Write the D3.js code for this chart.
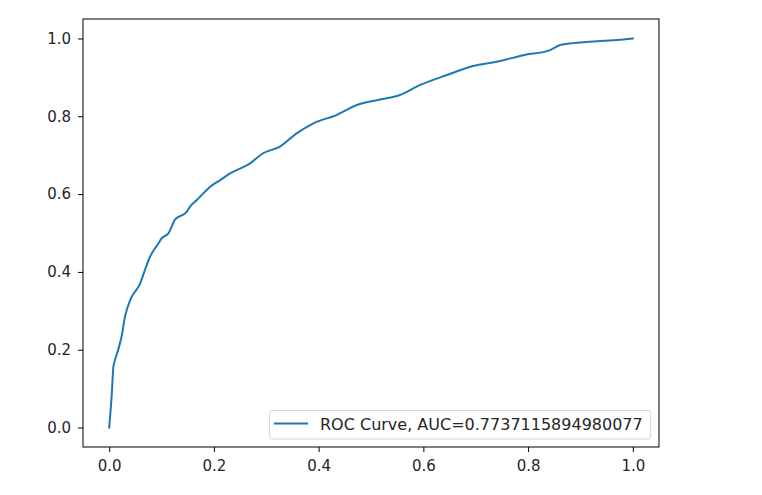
<!DOCTYPE html>
<html>
<head>
<meta charset="utf-8">
<script src="https://cdn.jsdelivr.net/npm/d3@7"></script>
<style>
  body { margin: 0; background: #fff; }
  svg text { font-family: "DejaVu Sans", sans-serif; fill: #262626; }
</style>
</head>
<body>
<div id="vis"></div>
<script>
// ROC curve (false positive rate / true positive rate)
var fpr = [0, 0.005, 0.008, 0.011, 0.017, 0.024, 0.030, 0.040, 0.043, 0.059, 0.068, 0.078,
  0.094, 0.100, 0.113, 0.126, 0.148, 0.154, 0.167, 0.193, 0.212, 0.231, 0.269, 0.294,
  0.326, 0.358, 0.390, 0.434, 0.473, 0.517, 0.554, 0.593, 0.645, 0.695, 0.740, 0.791,
  0.842, 0.861, 0.886, 0.944, 0.970, 1.0];
var tpr = [0, 0.087, 0.156, 0.173, 0.199, 0.236, 0.284, 0.327, 0.336, 0.370, 0.404, 0.439,
  0.473, 0.486, 0.499, 0.535, 0.554, 0.567, 0.584, 0.619, 0.636, 0.653, 0.679, 0.705,
  0.722, 0.756, 0.782, 0.803, 0.829, 0.843, 0.854, 0.880, 0.906, 0.929, 0.940, 0.957,
  0.970, 0.983, 0.988, 0.994, 0.996, 1.0];
var tickValues = [0, 0.2, 0.4, 0.6, 0.8, 1.0];
var legendLabel = 'ROC Curve, AUC=0.7737115894980077';

var width = 762;
var height = 495;
// axes box in pixels
var box = { left: 83, top: 19, right: 659, bottom: 447 };

var points = fpr.map(function(d, i) { return [d, tpr[i]]; });

var svg = d3.select('#vis').append('svg')
  .attr('width', width)
  .attr('height', height);

// matplotlib style 5% margins around the data range
var x = d3.scaleLinear().domain([-0.05, 1.05]).range([box.left, box.right]);
var y = d3.scaleLinear().domain([-0.05, 1.05]).range([box.bottom, box.top]);

var line = d3.line()
  .curve(d3.curveMonotoneX)
  .x(function(d) { return x(d[0]); })
  .y(function(d) { return y(d[1]); });

svg.append('path')
  .datum(points)
  .attr('fill', 'none')
  .attr('stroke', '#1f77b4')
  .attr('stroke-width', 2)
  .attr('stroke-linejoin', 'round')
  .attr('stroke-linecap', 'square')
  .attr('d', line);

var fmt = d3.format('.1f');

var xAxis = d3.axisBottom(x).tickValues(tickValues).tickFormat(fmt)
  .tickSize(5).tickPadding(8);
var yAxis = d3.axisLeft(y).tickValues(tickValues).tickFormat(fmt)
  .tickSize(5).tickPadding(7);

svg.append('g')
  .attr('class', 'x axis')
  .attr('transform', 'translate(0,' + box.bottom + ')')
  .call(xAxis);

svg.append('g')
  .attr('class', 'y axis')
  .attr('transform', 'translate(' + box.left + ',0)')
  .call(yAxis);

svg.selectAll('.axis .domain').remove();
svg.selectAll('.axis line').attr('stroke', '#000').attr('stroke-width', 1);
svg.selectAll('.axis text')
  .style('font-family', '"DejaVu Sans", sans-serif')
  .style('font-size', '15px')
  .attr('fill', '#262626');

// frame
svg.append('rect')
  .attr('x', box.left)
  .attr('y', box.top)
  .attr('width', box.right - box.left)
  .attr('height', box.bottom - box.top)
  .attr('fill', 'none')
  .attr('stroke', '#000')
  .attr('stroke-width', 1);

// legend
var legend = svg.append('g').attr('class', 'legend');

var legendText = legend.append('text')
  .attr('x', 320)
  .attr('y', 424)
  .attr('dy', '0.35em')
  .style('font-size', '16px')
  .text(legendLabel);

var tw = legendText.node().getComputedTextLength();

legend.insert('rect', 'text')
  .attr('x', 269.5)
  .attr('y', 410.5)
  .attr('width', 320 + tw + 8 - 269.5)
  .attr('height', 28.5)
  .attr('rx', 3)
  .attr('fill', '#fff')
  .attr('fill-opacity', 0.8)
  .attr('stroke', '#d5d5d5')
  .attr('stroke-width', 1);

legend.append('line')
  .attr('x1', 274)
  .attr('x2', 308)
  .attr('y1', 423.5)
  .attr('y2', 423.5)
  .attr('stroke', '#1f77b4')
  .attr('stroke-width', 2);
</script>
</body>
</html>
